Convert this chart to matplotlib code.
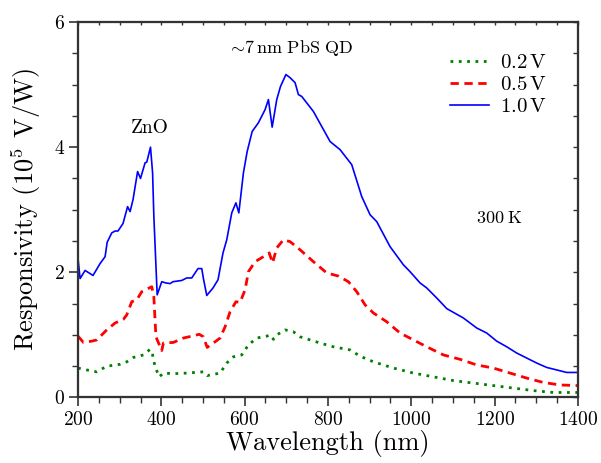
import matplotlib
matplotlib.use("Agg")
import matplotlib.pyplot as plt
from matplotlib.ticker import MultipleLocator, NullFormatter

plt.rcParams['font.family'] = 'serif'
plt.rcParams['font.serif'] = ['cmr10']
plt.rcParams['mathtext.fontset'] = 'cm'
plt.rcParams['axes.formatter.use_mathtext'] = True

# 1.0 V (blue)
wl_hi = [200, 205, 217, 236, 253, 265, 270, 281, 289, 296, 308, 319, 325, 332, 343, 350,
         361, 365, 374, 379, 382, 390, 401, 411, 421, 428, 449, 461, 473, 488, 497, 501,
         509, 524, 536, 548, 557, 569, 579, 586, 597, 606, 618, 633, 649, 657, 666, 677,
         686, 699, 709, 721, 729, 737, 765, 805, 829, 857, 881, 901, 917, 949, 981, 997,
         1021, 1037, 1061, 1085, 1125, 1157, 1181, 1205, 1229, 1253, 1277, 1301, 1325,
         1349, 1373, 1400]
r_hi = [2.22, 1.90, 2.03, 1.95, 2.14, 2.25, 2.48, 2.63, 2.66, 2.66, 2.78, 3.05, 2.97, 3.16,
        3.61, 3.50, 3.75, 3.76, 4.00, 3.59, 2.90, 1.64, 1.85, 1.83, 1.82, 1.85, 1.87, 1.91,
        1.91, 2.06, 2.06, 1.90, 1.63, 1.75, 1.88, 2.31, 2.52, 2.95, 3.11, 2.95, 3.59, 3.93,
        4.25, 4.39, 4.60, 4.76, 4.32, 4.76, 4.97, 5.16, 5.11, 5.03, 4.84, 4.81, 4.57, 4.09,
        3.96, 3.72, 3.21, 2.92, 2.81, 2.41, 2.12, 2.01, 1.83, 1.75, 1.59, 1.42, 1.27, 1.11,
        1.03, 0.90, 0.81, 0.71, 0.63, 0.55, 0.48, 0.44, 0.40, 0.40]

# 0.5 V (red)
wl_mid = [200, 213, 233, 245, 269, 289, 309, 317, 329, 341, 353, 377, 382, 387, 401, 405,
          429, 453, 473, 491, 501, 510, 525, 541, 553, 565, 579, 589, 601, 609, 625, 645,
          659, 667, 677, 693, 709, 733, 765, 797, 825, 849, 869, 889, 909, 941, 973, 1005,
          1037, 1077, 1117, 1157, 1197, 1237, 1277, 1317, 1357, 1400]
r_mid = [0.98, 0.88, 0.90, 0.92, 1.08, 1.19, 1.25, 1.32, 1.53, 1.56, 1.69, 1.77, 1.61, 0.97,
         0.75, 0.87, 0.88, 0.95, 0.98, 1.01, 0.97, 0.80, 0.87, 0.95, 1.13, 1.37, 1.53, 1.52,
         1.72, 2.01, 2.17, 2.25, 2.31, 2.15, 2.39, 2.52, 2.49, 2.36, 2.17, 1.99, 1.94, 1.85,
         1.69, 1.48, 1.35, 1.21, 1.03, 0.92, 0.81, 0.68, 0.61, 0.52, 0.47, 0.39, 0.31, 0.24,
         0.20, 0.19]

# 0.2 V (green)
wl_lo = [200, 221, 245, 269, 301, 317, 333, 357, 373, 379, 385, 395, 405, 429, 461, 501,
         510, 541, 557, 573, 593, 609, 629, 653, 661, 669, 677, 697, 717, 733, 781, 813, 853,
         877, 909, 957, 1005, 1053, 1101, 1149, 1197, 1245, 1293, 1341, 1400]
r_lo = [0.47, 0.44, 0.41, 0.50, 0.53, 0.57, 0.64, 0.68, 0.77, 0.68, 0.49, 0.33, 0.39, 0.38,
        0.39, 0.41, 0.35, 0.39, 0.55, 0.65, 0.68, 0.84, 0.95, 0.98, 1.00, 0.93, 1.00, 1.08,
        1.05, 0.97, 0.87, 0.81, 0.76, 0.66, 0.57, 0.47, 0.39, 0.33, 0.27, 0.23, 0.19, 0.15,
        0.11, 0.08, 0.08]

fig = plt.figure(figsize=(6.01, 4.63), dpi=100)
ax = fig.add_axes([0.1298, 0.1415, 0.8319, 0.811])

ax.plot(wl_lo, r_lo, color='#008000', linestyle=(0, (1, 2)), linewidth=2,
        label=r'$0.2\,\mathrm{V}$')
ax.plot(wl_mid, r_mid, color='#ff0000', linestyle=(0, (3, 2)), linewidth=2,
        label=r'$0.5\,\mathrm{V}$')
ax.plot(wl_hi, r_hi, color='#0000ff', linestyle='-', linewidth=1.2,
        label=r'$1.0\,\mathrm{V}$')

ax.set_xlim(200, 1400)
ax.set_ylim(0, 6)
ax.xaxis.set_major_locator(MultipleLocator(200))
ax.xaxis.set_minor_locator(MultipleLocator(50))
ax.yaxis.set_major_locator(MultipleLocator(2))
ax.yaxis.set_minor_locator(MultipleLocator(0.5))
ax.tick_params(which='both', direction='out', top=False, right=False, labelsize=14,
               color='#333333', labelcolor='black')
ax.tick_params(which='major', length=6.5, width=1.2, pad=3)
ax.tick_params(which='minor', length=4, width=1.0)

# inward ticks on top and right
axt = ax.twiny()
axt.set_xlim(200, 1400)
axt.xaxis.set_major_locator(MultipleLocator(50))
axt.xaxis.set_major_formatter(NullFormatter())
axt.tick_params(direction='in', length=2.5, width=1.0, color='#333333')
axr = ax.twinx()
axr.set_ylim(0, 6)
axr.yaxis.set_major_locator(MultipleLocator(0.5))
axr.yaxis.set_major_formatter(NullFormatter())
axr.tick_params(direction='in', length=3.5, width=1.0, color='#333333')

for a in [ax, axt, axr]:
    for s in a.spines.values():
        s.set_linewidth(1.5)
        s.set_color('#333333')

ax.set_xlabel('Wavelength (nm)', fontsize=19, labelpad=1)
ax.set_ylabel(r'Responsivity ($10^5$ V/W)', fontsize=19, labelpad=8)

ax.text(373, 4.31, 'ZnO', ha='center', va='center', fontsize=14)
ax.text(709, 5.59, r'$\sim\!7\,\mathrm{nm\ PbS\ QD}$', ha='center', va='center', fontsize=13)
ax.text(1212, 2.87, r'$300\;\mathrm{K}$', ha='center', va='center', fontsize=13)

ax.legend(loc='upper right', frameon=False, fontsize=15, handlelength=1.9,
          handletextpad=0.5, labelspacing=0.15, bbox_to_anchor=(0.975, 0.965))

fig.savefig('out.png', dpi=100)
